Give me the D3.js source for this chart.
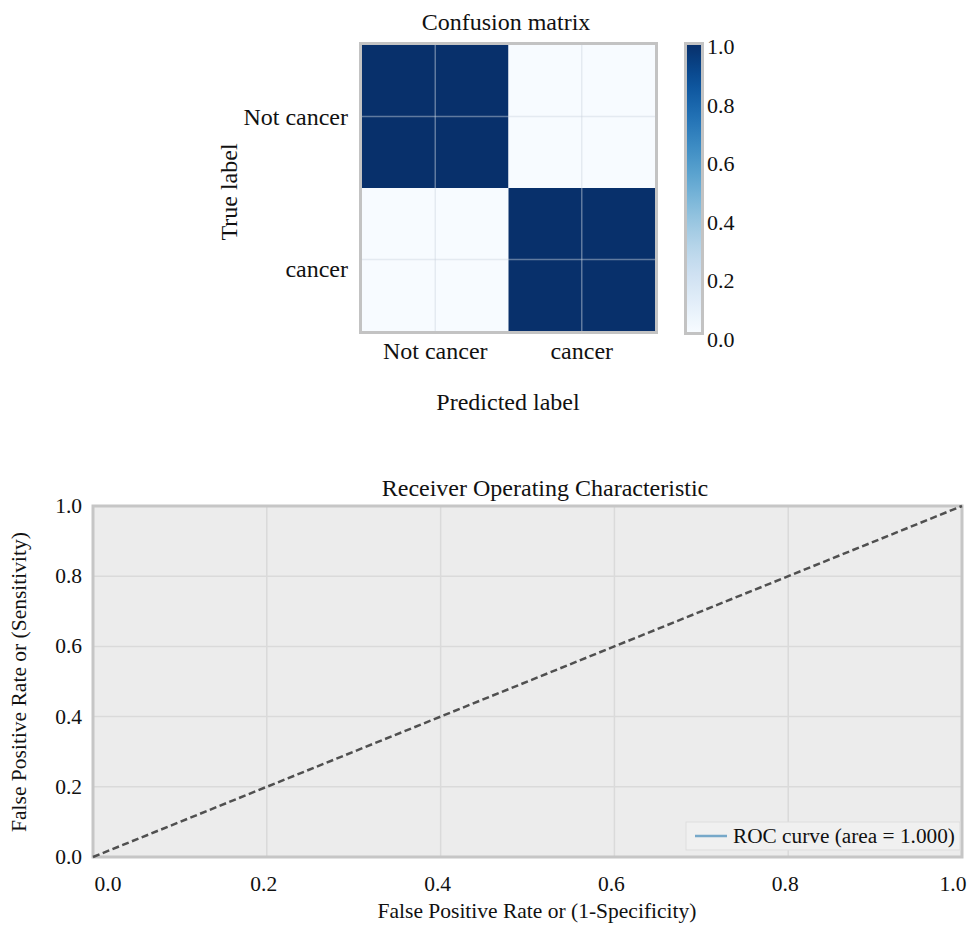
<!DOCTYPE html>
<html>
<head>
<meta charset="utf-8">
<script src="https://cdn.jsdelivr.net/npm/d3@7/dist/d3.min.js"></script>
<style>
  html, body { margin: 0; padding: 0; background: #ffffff; }
  svg { display: block; }
  text { font-family: "Liberation Serif", "DejaVu Serif", serif; fill: #111; }
</style>
</head>
<body>
<svg id="chart" width="971" height="939"></svg>
<script>
// ---- data ----
const classNames = ["Not cancer", "cancer"];
// normalized confusion matrix, rows = true label, cols = predicted label
const cmRow0 = [1.0, 0.0];
const cmRow1 = [0.0, 1.0];
const colorbarTicks = [0.0, 0.2, 0.4, 0.6, 0.8, 1.0];

// ROC curve points
const fpr = [0.0, 0.0, 1.0];
const tpr = [0.0, 1.0, 1.0];
const rocArea = 1.000;
const chanceX = [0.0, 1.0];
const chanceY = [0.0, 1.0];
const rocTicks = [0.0, 0.2, 0.4, 0.6, 0.8, 1.0];

const svg = d3.select("#chart");

// ================= Confusion matrix =================
const cm = [cmRow0, cmRow1];
const cmX = d3.scaleBand().domain(classNames).range([362, 655]);
const cmY = d3.scaleBand().domain(classNames).range([45, 331]);
const blues = d3.scaleSequential(d3.interpolateBlues).domain([0, 1]);

const cmG = svg.append("g");
const cells = [];
cm.forEach((row, i) => row.forEach((v, j) => cells.push({ t: classNames[i], p: classNames[j], v })));

cmG.selectAll("rect.cell").data(cells).enter().append("rect")
  .attr("class", "cell")
  .attr("x", d => cmX(d.p))
  .attr("y", d => cmY(d.t))
  .attr("width", cmX.bandwidth())
  .attr("height", cmY.bandwidth())
  .attr("fill", d => blues(d.v));

// grid lines through the cell centres
cmG.selectAll("line.gx").data(classNames).enter().append("line")
  .attr("x1", d => cmX(d) + cmX.bandwidth() / 2)
  .attr("x2", d => cmX(d) + cmX.bandwidth() / 2)
  .attr("y1", 45).attr("y2", 331)
  .attr("stroke", "rgba(205,212,225,0.45)").attr("stroke-width", 1.5);
cmG.selectAll("line.gy").data(classNames).enter().append("line")
  .attr("y1", d => cmY(d) + cmY.bandwidth() / 2)
  .attr("y2", d => cmY(d) + cmY.bandwidth() / 2)
  .attr("x1", 362).attr("x2", 655)
  .attr("stroke", "rgba(205,212,225,0.45)").attr("stroke-width", 1.5);

// frame
cmG.append("rect")
  .attr("x", 360.5).attr("y", 43.5)
  .attr("width", 296).attr("height", 289)
  .attr("fill", "none").attr("stroke", "#c3c3c3").attr("stroke-width", 3);

// row / column labels
cmG.selectAll("text.ylab").data(classNames).enter().append("text")
  .attr("x", 348)
  .attr("y", (d, i) => cmY(d) + cmY.bandwidth() / 2 + 8 + i * 9)
  .attr("text-anchor", "end")
  .style("font-size", "24px")
  .text(d => d);
cmG.selectAll("text.xlab").data(classNames).enter().append("text")
  .attr("x", d => cmX(d) + cmX.bandwidth() / 2)
  .attr("y", 359)
  .attr("text-anchor", "middle")
  .style("font-size", "24px")
  .text(d => d);

svg.append("text").attr("x", 506).attr("y", 30)
  .attr("text-anchor", "middle").style("font-size", "24px")
  .text("Confusion matrix");
svg.append("text").attr("x", 508).attr("y", 410)
  .attr("text-anchor", "middle").style("font-size", "24px")
  .text("Predicted label");
svg.append("text")
  .attr("transform", "translate(237,192) rotate(-90)")
  .attr("text-anchor", "middle").style("font-size", "24px")
  .text("True label");

// colorbar
const defs = svg.append("defs");
const grad = defs.append("linearGradient").attr("id", "cbGrad")
  .attr("x1", 0).attr("y1", 1).attr("x2", 0).attr("y2", 0);
d3.range(0, 1.0001, 0.05).forEach(t => {
  grad.append("stop").attr("offset", t).attr("stop-color", blues(t));
});
const cbY = d3.scaleLinear().domain([0, 1]).range([332, 45]);
svg.append("rect")
  .attr("x", 687).attr("y", cbY(1))
  .attr("width", 14).attr("height", cbY(0) - cbY(1))
  .attr("fill", "url(#cbGrad)");
svg.append("rect")
  .attr("x", 685.5).attr("y", cbY(1) - 1.5)
  .attr("width", 17).attr("height", cbY(0) - cbY(1) + 3)
  .attr("fill", "none").attr("stroke", "#c3c3c3").attr("stroke-width", 3);
svg.selectAll("text.cbt").data(colorbarTicks).enter().append("text")
  .attr("x", 707)
  .attr("y", d => cbY(d) + 9 + (1 - d) * 6)
  .style("font-size", "22px")
  .text(d => d3.format(".1f")(d));

// ================= ROC curve =================
const rx = d3.scaleLinear().domain([0, 1]).range([93, 962]);
const ry = d3.scaleLinear().domain([0, 1]).range([857, 506]);
const rocG = svg.append("g");

rocG.append("rect")
  .attr("x", rx(0)).attr("y", ry(1))
  .attr("width", rx(1) - rx(0)).attr("height", ry(0) - ry(1))
  .attr("fill", "#ececec");

const inner = rocTicks.filter(t => t > 0 && t < 1);
rocG.selectAll("line.vg").data(inner).enter().append("line")
  .attr("x1", d => rx(d)).attr("x2", d => rx(d))
  .attr("y1", ry(0)).attr("y2", ry(1))
  .attr("stroke", "#dadada").attr("stroke-width", 1.5);
rocG.selectAll("line.hg").data(inner).enter().append("line")
  .attr("y1", d => ry(d)).attr("y2", d => ry(d))
  .attr("x1", rx(0)).attr("x2", rx(1))
  .attr("stroke", "#dadada").attr("stroke-width", 1.5);

const line = d3.line().x(d => rx(d[0])).y(d => ry(d[1]));

// ROC curve (runs along the left and top edges)
rocG.append("path")
  .datum(d3.zip(fpr, tpr))
  .attr("d", line)
  .attr("fill", "none").attr("stroke", "#76a8c9").attr("stroke-width", 2);

// frame
rocG.append("rect")
  .attr("x", rx(0)).attr("y", ry(1))
  .attr("width", rx(1) - rx(0)).attr("height", ry(0) - ry(1))
  .attr("fill", "none").attr("stroke", "#c6c6c6").attr("stroke-width", 3);

// chance diagonal
rocG.append("path")
  .datum(d3.zip(chanceX, chanceY))
  .attr("d", line)
  .attr("fill", "none").attr("stroke", "#505050")
  .attr("stroke-width", 2.5).attr("stroke-dasharray", "7,3.5");

// tick labels
svg.selectAll("text.xt").data(rocTicks).enter().append("text")
  .attr("x", (d, i) => rx(d) + (i === 0 ? 15 : i === rocTicks.length - 1 ? -9 : -3))
  .attr("y", 891)
  .attr("text-anchor", "middle")
  .style("font-size", "21.5px")
  .text(d => d3.format(".1f")(d));
svg.selectAll("text.yt").data(rocTicks).enter().append("text")
  .attr("x", 82)
  .attr("y", d => ry(d) + 7)
  .attr("text-anchor", "end")
  .style("font-size", "21.5px")
  .text(d => d3.format(".1f")(d));

svg.append("text").attr("x", 545).attr("y", 496)
  .attr("text-anchor", "middle").style("font-size", "24px")
  .text("Receiver Operating Characteristic");
svg.append("text").attr("x", 537).attr("y", 918)
  .attr("text-anchor", "middle").style("font-size", "21.5px")
  .text("False Positive Rate or (1-Specificity)");
svg.append("text")
  .attr("transform", "translate(26,682) rotate(-90)")
  .attr("text-anchor", "middle").style("font-size", "21.5px")
  .text("False Positive Rate or (Sensitivity)");

// legend
const lg = svg.append("g");
lg.append("rect")
  .attr("x", 686).attr("y", 822).attr("width", 274).attr("height", 28)
  .attr("fill", "#f0f0f0").attr("stroke", "#dddddd").attr("stroke-width", 1);
lg.append("line")
  .attr("x1", 695).attr("x2", 727).attr("y1", 836).attr("y2", 836)
  .attr("stroke", "#76a8c9").attr("stroke-width", 2.5);
lg.append("text")
  .attr("x", 733).attr("y", 843)
  .style("font-size", "21.3px")
  .text("ROC curve (area = " + d3.format(".3f")(rocArea) + ")");
</script>
</body>
</html>
